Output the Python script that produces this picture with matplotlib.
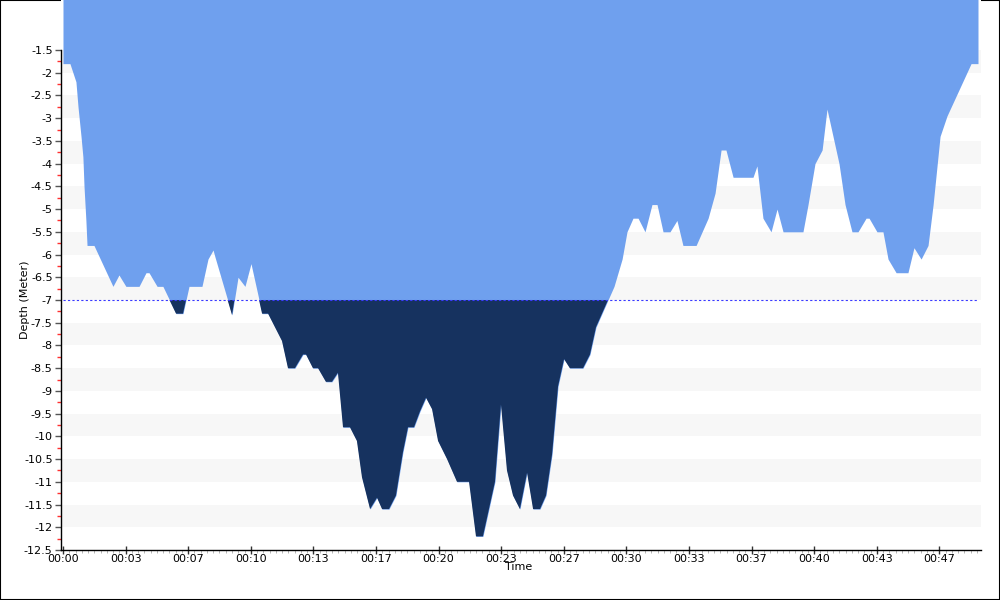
import matplotlib
matplotlib.use("Agg")
import matplotlib.pyplot as plt
import numpy as np
from matplotlib.ticker import FixedLocator, FuncFormatter, MultipleLocator
from matplotlib.patches import Rectangle

# Dive profile: time in minutes, depth in metres (negative = below surface)
time_min = [0.00, 0.37, 0.53, 0.69, 0.80, 0.96, 1.06, 1.12, 1.22, 1.28, 1.65, 2.66, 2.98, 3.35,
            4.05, 4.42, 4.58, 5.01, 5.32, 6.02, 6.39, 6.71, 7.40, 7.72, 7.99, 8.09, 9.00, 9.32,
            9.69, 10.01, 10.60, 10.92, 11.66, 11.98, 12.35, 12.78, 12.94, 13.31, 13.58, 14.00,
            14.32, 14.64, 14.91, 15.28, 15.65, 15.92, 16.35, 16.72, 16.99, 17.36, 17.73, 18.10,
            18.37, 18.69, 19.01, 19.33, 19.65, 19.97, 20.45, 20.98, 21.62, 21.99, 22.36, 23.00,
            23.32, 23.64, 23.96, 24.33, 24.71, 25.03, 25.40, 25.72, 26.04, 26.36, 26.68, 26.99,
            27.69, 28.06, 28.38, 29.02, 29.34, 29.77, 30.03, 30.35, 30.62, 30.99, 31.36, 31.63,
            31.95, 32.32, 32.69, 33.01, 33.71, 34.35, 34.72, 35.04, 35.30, 35.68, 36.74, 36.95,
            37.27, 37.70, 38.02, 38.34, 39.40, 39.67, 40.04, 40.42, 40.68, 41.32, 41.64, 42.01,
            42.33, 42.76, 42.92, 43.34, 43.66, 43.93, 44.36, 44.99, 45.31, 45.69, 46.06, 46.33,
            46.70, 47.07, 48.35, 48.72]
depth_m = [-1.8, -1.8, -2.0, -2.2, -2.75, -3.4, -3.85, -4.5, -5.25, -5.8, -5.8, -6.7, -6.45, -6.7,
           -6.7, -6.4, -6.4, -6.7, -6.7, -7.3, -7.3, -6.7, -6.7, -6.1, -5.9, -6.05, -7.33, -6.5,
           -6.7, -6.2, -7.3, -7.3, -7.9, -8.5, -8.5, -8.2, -8.2, -8.5, -8.5, -8.8,
           -8.8, -8.6, -9.8, -9.8, -10.1, -10.9, -11.6, -11.35, -11.6, -11.6, -11.3, -10.35,
           -9.8, -9.8, -9.45, -9.15, -9.4, -10.1, -10.5, -11.0, -11.0, -12.2, -12.2, -11.0,
           -9.3, -10.75, -11.3, -11.6, -10.8, -11.6, -11.6, -11.3, -10.4, -8.9, -8.3, -8.5,
           -8.5, -8.2, -7.6, -7.0, -6.7, -6.1, -5.5, -5.2, -5.2, -5.5, -4.9, -4.9,
           -5.5, -5.5, -5.25, -5.8, -5.8, -5.2, -4.65, -3.7, -3.7, -4.3, -4.3, -4.05,
           -5.2, -5.5, -5.0, -5.5, -5.5, -4.9, -4.0, -3.7, -2.8, -4.0, -4.9, -5.5,
           -5.5, -5.2, -5.2, -5.5, -5.5, -6.1, -6.4, -6.4, -5.85, -6.1, -5.8, -4.9,
           -3.4, -2.95, -1.8, -1.8]

threshold = -7.0
y_ticks = [-1.5, -2, -2.5, -3, -3.5, -4, -4.5, -5, -5.5, -6, -6.5, -7, -7.5, -8, -8.5,
           -9, -9.5, -10, -10.5, -11, -11.5, -12, -12.5]
x_tick_step_min = 10.0 / 3.0

t = np.array(time_min)
d = np.array(depth_m)

plt.rcParams['font.family'] = ['DejaVu Sans']
fig = plt.figure(figsize=(10, 6), dpi=100)
fig.patches.append(Rectangle((0, 0), 1, 1, transform=fig.transFigure, fill=False,
                             edgecolor='black', linewidth=1.5, zorder=-5))

ax = fig.add_axes([0.061, 50 / 600, 0.92, 550 / 600])
ymin, ymax = -12.5, -0.4
xmin, xmax = -0.106, 48.88
ax.set_xlim(xmin, xmax)
ax.set_ylim(ymin, ymax)
ax.set_facecolor('white')

# alternating stripes
for k in range(1, 12):
    ax.axhspan(-(k + 1), -(k + 0.5), color='#f7f7f7', lw=0, zorder=0)

ax.fill_between(t, d, ymax + 1.0, color='#6fa0ee', lw=0, zorder=1)
ax.fill_between(t, d, threshold, where=d < threshold, interpolate=True,
                color='#16325f', lw=0, zorder=2)
ax.plot([t[0], t[-1]], [threshold, threshold], color='#3a3aff', lw=0.8,
        linestyle=(0, (2, 2)), zorder=3)

for s in ['top', 'right']:
    ax.spines[s].set_visible(False)
ax.spines['left'].set_bounds(-12.5, -1.5)
ax.spines['left'].set_linewidth(1.0)
ax.spines['bottom'].set_linewidth(1.0)

ax.yaxis.set_major_locator(FixedLocator(y_ticks))
ax.yaxis.set_major_formatter(FuncFormatter(lambda v, p: '%g' % v))
minor_y = [v - 0.25 for v in y_ticks[:-1]]
ax.yaxis.set_minor_locator(FixedLocator(minor_y))
ax.tick_params(axis='y', which='major', length=4, width=1, color='#555555', pad=2,
               labelsize=8)
ax.tick_params(axis='y', which='minor', length=3, width=1, color='#ff3030')

xt = np.arange(0, 48.0, x_tick_step_min)
ax.xaxis.set_major_locator(FixedLocator(xt))
ax.xaxis.set_major_formatter(FuncFormatter(lambda v, p: '00:%02d' % int(round(v))))
ax.xaxis.set_minor_locator(MultipleLocator(x_tick_step_min / 10))
ax.tick_params(axis='x', which='major', direction='inout', length=6, width=1,
               color='#333333', pad=0, labelsize=8)
ax.tick_params(axis='x', which='minor', direction='out', length=2, width=0.6,
               color='#aaaaaa')

fig.text(0.519, 1 - 567 / 600, 'Time', ha='center', va='center', fontsize=8)
fig.text(0.025, 0.5, 'Depth (Meter)', ha='center', va='center', rotation=90, fontsize=8)

fig.savefig('out.png', dpi=100)
